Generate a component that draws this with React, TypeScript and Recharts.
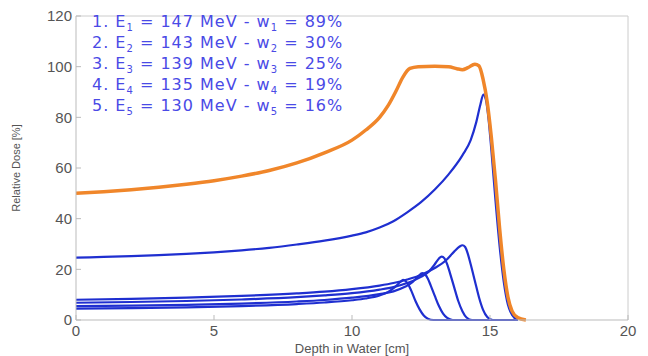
import React from 'react';
import { LineChart, Line, XAxis, YAxis, ReferenceLine } from 'recharts';

// spread-out Bragg peak (sum)
const sobpDepth = [0, 1, 2, 3, 4, 5, 6, 7, 8, 9, 10, 10.5, 11, 11.3, 11.6, 11.85, 12.1, 12.4, 13, 13.5, 13.8, 14, 14.2, 14.45, 14.6, 14.75, 14.9, 15.05, 15.2, 15.35, 15.5, 15.65, 15.8, 16, 16.3];
const sobpDose = [50, 50.6, 51.4, 52.4, 53.6, 55, 56.8, 59, 62, 66, 71, 75, 80, 84.5, 90.5, 96, 99.3, 100, 100.2, 100, 99.2, 98.8, 99.6, 101, 100.3, 95, 86, 72, 55, 36, 20, 9, 3.5, 1, 0];

// single beams, E1..E5
const beam1Depth = [0, 1, 2, 3, 4, 5, 6, 7, 8, 9, 10, 10.5, 11, 11.5, 12, 12.5, 13, 13.5, 14, 14.3, 14.5, 14.65, 14.76, 14.85, 14.95, 15.05, 15.2, 15.35, 15.5, 15.65, 15.8, 16];
const beam1Dose = [24.6, 24.9, 25.2, 25.6, 26.1, 26.7, 27.5, 28.5, 29.8, 31.3, 33.3, 34.6, 36.5, 39, 42.5, 46.5, 51.5, 57.5, 65, 71, 78, 85, 89, 87, 79, 67, 47, 29, 15, 6, 2, 0];

const beam2Depth = [0, 2, 4, 6, 8, 9, 10, 11, 11.5, 12, 12.5, 13, 13.4, 13.7, 13.9, 14, 14.1, 14.2, 14.3, 14.45, 14.6, 14.75, 14.9, 15.1, 16];
const beam2Dose = [8, 8.3, 8.8, 9.5, 10.5, 11.2, 12.2, 13.6, 14.6, 16, 17.8, 20.5, 23.5, 27, 29, 29.5, 28.8, 26, 22, 15.5, 9, 4, 1.2, 0, 0];

const beam3Depth = [0, 2, 4, 6, 8, 9, 10, 11, 11.5, 12, 12.5, 12.8, 13, 13.15, 13.25, 13.35, 13.45, 13.55, 13.7, 13.85, 14, 14.15, 14.35, 16];
const beam3Dose = [6.8, 7.1, 7.5, 8.1, 9, 9.7, 10.6, 12, 13, 14.6, 17, 19.3, 22, 24.3, 25, 24.3, 22, 18.5, 13, 7.5, 3.5, 1, 0, 0];

const beam4Depth = [0, 2, 4, 6, 8, 9, 10, 11, 11.5, 11.9, 12.2, 12.4, 12.55, 12.65, 12.75, 12.85, 13, 13.15, 13.3, 13.45, 13.65, 16];
const beam4Dose = [5.5, 5.7, 6, 6.5, 7.3, 7.9, 8.8, 10.2, 11.3, 13, 15, 17.3, 18.5, 18, 16.3, 13.7, 9.5, 5.5, 2.5, 0.8, 0, 0];

const beam5Depth = [0, 2, 4, 6, 8, 9, 10, 10.5, 11, 11.3, 11.55, 11.75, 11.85, 11.95, 12.05, 12.15, 12.3, 12.45, 12.6, 12.75, 12.95, 16];
const beam5Dose = [4.5, 4.7, 5, 5.5, 6.3, 6.9, 7.8, 8.5, 9.7, 11, 13, 15, 15.8, 15.3, 13.8, 11.5, 7.5, 4.2, 1.8, 0.5, 0, 0];

const beamLabels = [
  { n: 1, energy: 147, weight: 89 },
  { n: 2, energy: 143, weight: 30 },
  { n: 3, energy: 139, weight: 25 },
  { n: 4, energy: 135, weight: 19 },
  { n: 5, energy: 130, weight: 16 },
];

const xTicks = [0, 5, 10, 15, 20];
const yTicks = [0, 20, 40, 60, 80, 100, 120];

const toPoints = (depth: number[], dose: number[]) =>
  depth.map((x, i) => ({ x, y: dose[i] }));

const beams = [
  toPoints(beam1Depth, beam1Dose),
  toPoints(beam2Depth, beam2Dose),
  toPoints(beam3Depth, beam3Dose),
  toPoints(beam4Depth, beam4Dose),
  toPoints(beam5Depth, beam5Dose),
];
const sobp = toPoints(sobpDepth, sobpDose);

const font = '"Liberation Sans", Arial, sans-serif';
const tickStyle = { fontSize: 15, fill: '#555', fontFamily: font };
const subStyle: React.CSSProperties = { fontSize: 10, lineHeight: 0, position: 'relative', top: 4, verticalAlign: 'baseline' };

export default function App() {
  return (
    <div style={{ position: 'absolute', left: 0, top: 0, width: 648, height: 356, background: '#fff' }}>
      <LineChart width={648} height={356} margin={{ top: 16, right: 20, bottom: 0, left: 26 }}>
        <XAxis
          dataKey="x"
          type="number"
          domain={[0, 20]}
          ticks={xTicks}
          height={36}
          stroke="#bbb"
          tickSize={-5}
          tickMargin={10}
          tick={tickStyle}
          allowDataOverflow
          label={{ value: 'Depth in Water [cm]', position: 'insideBottom', offset: 3, fill: '#555', fontSize: 13, fontFamily: font }}
        />
        <YAxis
          type="number"
          domain={[0, 120]}
          ticks={yTicks}
          width={50}
          stroke="#bbb"
          tickSize={-5}
          tickMargin={9}
          tick={tickStyle}
          label={{ value: 'Relative Dose [%]', angle: -90, position: 'insideLeft', offset: -10, fill: '#555', fontSize: 11, fontFamily: font, style: { textAnchor: 'middle' } }}
        />
        <ReferenceLine y={120} stroke="#ccc" />
        <ReferenceLine x={20} stroke="#ccc" />
        {beams.map((pts, i) => (
          <Line
            key={i}
            data={pts}
            dataKey="y"
            type="monotone"
            stroke="#1f2fd0"
            strokeWidth={2.2}
            dot={false}
            isAnimationActive={false}
          />
        ))}
        <Line
          data={sobp}
          dataKey="y"
          type="monotone"
          stroke="#f0862a"
          strokeWidth={3.5}
          dot={false}
          isAnimationActive={false}
        />
      </LineChart>
      <div
        style={{
          position: 'absolute',
          left: 92,
          top: 11,
          fontFamily: '"DejaVu Sans", sans-serif',
          fontSize: 16,
          letterSpacing: 1,
          lineHeight: '21px',
          color: '#4a4ae6',
          whiteSpace: 'nowrap',
        }}
      >
        {beamLabels.map((b) => (
          <div key={b.n} style={{ height: 21 }}>
            {b.n}. E<span style={subStyle}>{b.n}</span> = {b.energy} MeV - w<span style={subStyle}>{b.n}</span> = {b.weight}%
          </div>
        ))}
      </div>
    </div>
  );
}
